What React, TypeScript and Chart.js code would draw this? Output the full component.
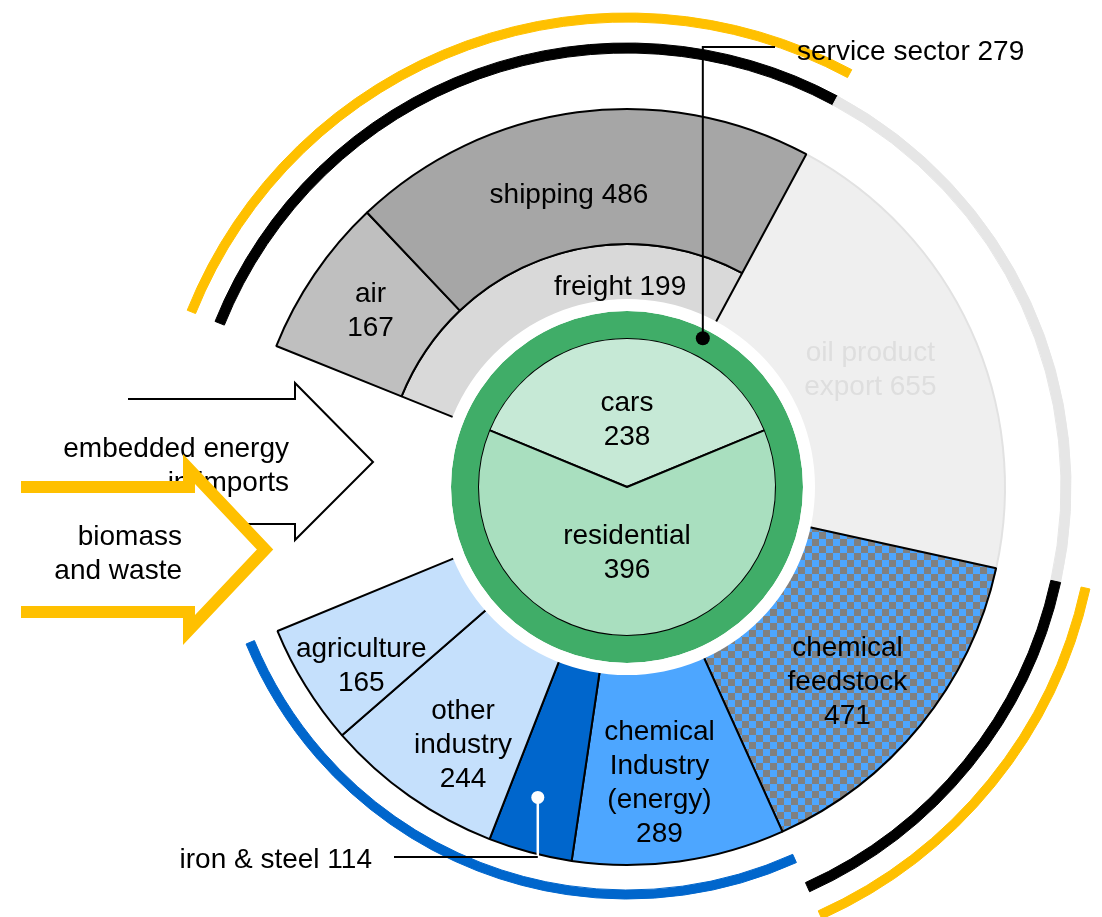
import React, { useEffect, useRef } from "react";
import { Chart, registerables } from "chart.js";

Chart.register(...registerables);

// ---------------- data ----------------
const transportLabels = ["air", "shipping"];
const transportValues = [167, 486];
const freightLabel = "freight";
const freightValue = 199;
const sectorLabels = [
  "oil product export",
  "chemical feedstock",
  "chemical Industry (energy)",
  "iron & steel",
  "other industry",
  "agriculture",
];
const sectorValues = [655, 471, 289, 114, 244, 165];
const homeLabels = ["cars", "residential"];
const homeValues = [238, 396];
const serviceLabel = "service sector";
const serviceValue = 279;
const inflowLabels = ["embedded energy in imports", "biomass and waste"];

// ---------------- layout / style ----------------
const W = 1102;
const H = 917;
const CX = 627;
const CY = 487;
const WHEEL_START = -68.1; // deg, clockwise from 12 o'clock
const WHEEL_SWEEP = 315.7; // deg covered by the sectors
const R_OUTER = 474;
const R_WEDGE_OUT = 378;
const R_FREIGHT_OUT = 243;
const R_WEDGE_IN = 186;
const R_WHITE = 188;
const R_GREEN_OUT = 176;
const R_PIE = 149;
const FONT = '28px "Liberation Sans", Arial, sans-serif';
const LINE_H = 34;
const CAP_HALF = 10;

const COL = {
  yellow: "#ffc000",
  black: "#000000",
  grayArc: "#e6e6e6",
  blueArc: "#0066cc",
  air: "#bfbfbf",
  shipping: "#a6a6a6",
  freight: "#d9d9d9",
  oil: "#efefef",
  oilEdge: "#e2e2e2",
  oilText: "#dedede",
  chem: "#4da6ff",
  iron: "#0066cc",
  light: "#c5e0fc",
  green: "#40ad68",
  cars: "#c6e9d6",
  residential: "#a9dfbf",
  checkGray: "#808080",
  T: "rgba(0,0,0,0)",
};

const pct = (r: number, R: number) => `${(r / R) * 100}%`;

function makeChecker(): any {
  const c = document.createElement("canvas");
  c.width = 14;
  c.height = 14;
  const g = c.getContext("2d")!;
  g.fillStyle = COL.checkGray;
  g.fillRect(0, 0, 14, 14);
  g.fillStyle = COL.chem;
  g.fillRect(0, 0, 7, 7);
  g.fillRect(7, 7, 7, 7);
  return g.createPattern(c, "repeat");
}

function baseOptions(radius: number, cutout: string, rotation: number): any {
  return {
    responsive: false,
    animation: false,
    devicePixelRatio: 1,
    events: [],
    layout: { padding: { left: 2 * CX - W, top: 2 * CY - H, right: 0, bottom: 0 } },
    radius,
    cutout,
    rotation,
    plugins: { legend: { display: false }, tooltip: { enabled: false } },
  };
}

function polar(el: any, t: number, r: number): [number, number] {
  const a = el.startAngle + t * (el.endAngle - el.startAngle);
  return [el.x + r * Math.cos(a), el.y + r * Math.sin(a)];
}

function block(ctx: CanvasRenderingContext2D, lines: string[], x: number, y: number, color: string, align: CanvasTextAlign = "center") {
  ctx.fillStyle = color;
  ctx.textAlign = align;
  ctx.textBaseline = "alphabetic";
  const n = lines.length;
  lines.forEach((s, i) => ctx.fillText(s, x, y + (i - (n - 1) / 2) * LINE_H + CAP_HALF));
}

export default function App() {
  const refA = useRef<HTMLCanvasElement>(null);
  const refB = useRef<HTMLCanvasElement>(null);
  const refC = useRef<HTMLCanvasElement>(null);

  useEffect(() => {
    const transportTotal = freightValue + transportValues.reduce((a, b) => a + b, 0);
    const grandTotal = transportTotal + sectorValues.reduce((a, b) => a + b, 0);
    const gapValue = grandTotal * (360 / WHEEL_SWEEP - 1);
    const groupValues = [transportTotal, ...sectorValues, gapValue];
    const T = COL.T;
    const checker = makeChecker();

    const arcRing = (colors: string[], weight: number) => ({
      data: groupValues,
      backgroundColor: colors,
      borderColor: colors,
      borderWidth: colors.map((c) => (c === T ? 0 : 1)),
      weight,
      clip: false,
    });
    const spacer = (weight: number) => ({
      data: groupValues,
      backgroundColor: groupValues.map(() => T),
      borderWidth: 0,
      weight,
      clip: false,
    });

    // Chart A: outer bracket arcs + full-depth sector wedges
    const chartA = new Chart(refA.current!, {
      type: "doughnut",
      data: {
        labels: ["transport", ...sectorLabels, "imports"],
        datasets: [
          arcRing([COL.yellow, T, COL.yellow, T, T, T, T, T], 9),
          spacer(21),
          arcRing([COL.black, COL.grayArc, COL.black, T, T, T, T, T], 10),
          spacer(22),
          arcRing([T, T, T, COL.blueArc, COL.blueArc, COL.blueArc, COL.blueArc, T], 9),
          spacer(R_OUTER - 9 - 21 - 10 - 22 - 9 - R_WEDGE_OUT),
          {
            data: groupValues,
            backgroundColor: [T, COL.oil, checker, COL.chem, COL.iron, COL.light, COL.light, T],
            borderColor: [T, COL.oilEdge, COL.black, COL.black, COL.black, COL.black, COL.black, T],
            borderWidth: [0, 2, 2, 2, 2, 2, 2, 0],
            weight: R_WEDGE_OUT - R_WEDGE_IN,
            clip: false,
          } as any,
        ],
      },
      options: baseOptions(R_OUTER, pct(R_WEDGE_IN, R_OUTER), WHEEL_START),
    });

    // Chart B: transport (air, shipping outer ring; freight inner ring)
    const transportSweep = (WHEEL_SWEEP * transportTotal) / grandTotal;
    const outerSum = transportValues.reduce((a, b) => a + b, 0);
    const restOuter = outerSum * (360 / transportSweep - 1);
    const restInner = freightValue * (360 / transportSweep - 1);
    const chartB = new Chart(refB.current!, {
      type: "doughnut",
      data: {
        labels: [...transportLabels, "rest"],
        datasets: [
          {
            data: [...transportValues, restOuter],
            backgroundColor: [COL.air, COL.shipping, T],
            borderColor: [COL.black, COL.black, T],
            borderWidth: [2, 2, 0],
            weight: R_WEDGE_OUT - R_FREIGHT_OUT,
            clip: false,
          } as any,
          {
            data: [freightValue, restInner],
            backgroundColor: [COL.freight, T],
            borderColor: [COL.black, T],
            borderWidth: [2, 0],
            weight: R_FREIGHT_OUT - R_WEDGE_IN,
            clip: false,
          },
        ],
      },
      options: baseOptions(R_WEDGE_OUT, pct(R_WEDGE_IN, R_WEDGE_OUT), WHEEL_START),
    });

    const homeTotal = homeValues.reduce((a, b) => a + b, 0);

    const overlay = {
      id: "overlay",
      afterDraw(chart: any) {
        const ctx: CanvasRenderingContext2D = chart.ctx;
        ctx.save();
        ctx.font = FONT;
        const bOuter = chartB.getDatasetMeta(0).data as any[];
        const bInner = chartB.getDatasetMeta(1).data as any[];
        const aW = chartA.getDatasetMeta(6).data as any[];
        const pie = chart.getDatasetMeta(2).data as any[];
        const green = chart.getDatasetMeta(1).data[0] as any;

        const labels: [any, number, number, string[], string][] = [
          [bOuter[0], 0.52, 312, [transportLabels[0], `${transportValues[0]}`], COL.black],
          [bOuter[1], 0.45, 300, [`${transportLabels[1]} ${transportValues[1]}`], COL.black],
          [bInner[0], 0.686, 202, [`${freightLabel} ${freightValue}`], COL.black],
          [aW[1], 0.48, 271, ["oil product", `export ${sectorValues[0]}`], COL.oilText],
          [aW[2], 0.54, 293, ["chemical", "feedstock", `${sectorValues[1]}`], COL.black],
          [aW[3], 0.55, 296, ["chemical", "Industry", "(energy)", `${sectorValues[2]}`], COL.black],
          [aW[5], 0.41, 304, ["other", "industry", `${sectorValues[4]}`], COL.black],
          [aW[6], 0.4, 319, [sectorLabels[5], `${sectorValues[5]}`], COL.black],
          [pie[0], 0.5, 69, [homeLabels[0], `${homeValues[0]}`], COL.black],
          [pie[1], 0.5, 64, [homeLabels[1], `${homeValues[1]}`], COL.black],
        ];
        labels.forEach(([el, t, r, lines, color]) => {
          const [x, y] = polar(el, t, r);
          block(ctx, lines, x, y, color);
        });

        // service sector leader
        const sa = ((27 - 90) * Math.PI) / 180;
        const sr = 167;
        const sx = green.x + sr * Math.cos(sa);
        const sy = green.y + sr * Math.sin(sa);
        ctx.strokeStyle = COL.black;
        ctx.lineWidth = 2;
        ctx.beginPath();
        ctx.moveTo(sx, sy);
        ctx.lineTo(sx, 47);
        ctx.lineTo(775, 47);
        ctx.stroke();
        ctx.fillStyle = COL.black;
        ctx.beginPath();
        ctx.arc(sx, sy, 7, 0, Math.PI * 2);
        ctx.fill();
        block(ctx, [`${serviceLabel} ${serviceValue}`], 797, 50, COL.black, "left");

        // iron & steel leader
        const [ix, iy] = polar(aW[4], 0.59, 323);
        ctx.strokeStyle = "#ffffff";
        ctx.lineWidth = 2.5;
        ctx.beginPath();
        ctx.moveTo(ix, iy);
        ctx.lineTo(ix, 856);
        ctx.stroke();
        ctx.fillStyle = "#ffffff";
        ctx.beginPath();
        ctx.arc(ix, iy, 6.5, 0, Math.PI * 2);
        ctx.fill();
        ctx.strokeStyle = COL.black;
        ctx.lineWidth = 2;
        ctx.beginPath();
        ctx.moveTo(ix, 857);
        ctx.lineTo(394, 857);
        ctx.stroke();
        block(ctx, [`${sectorLabels[3]} ${sectorValues[3]}`], 372, 858, COL.black, "right");

        // embedded energy arrow (outline)
        ctx.lineJoin = "miter";
        ctx.strokeStyle = COL.black;
        ctx.lineWidth = 2;
        ctx.beginPath();
        ctx.moveTo(128, 399);
        ctx.lineTo(295, 399);
        ctx.lineTo(295, 383);
        ctx.lineTo(373, 462);
        ctx.lineTo(295, 540);
        ctx.lineTo(295, 524);
        ctx.lineTo(128, 524);
        ctx.stroke();
        block(ctx, ["embedded energy", "in imports"], 289, 464, COL.black, "right");

        // biomass arrow (yellow)
        const pts: [number, number][] = [
          [21, 487],
          [189, 487],
          [189, 469],
          [265, 549.5],
          [189, 630],
          [189, 612],
          [21, 612],
        ];
        ctx.fillStyle = "#ffffff";
        ctx.beginPath();
        pts.forEach(([x, y], i) => (i ? ctx.lineTo(x, y) : ctx.moveTo(x, y)));
        ctx.closePath();
        ctx.fill();
        ctx.strokeStyle = COL.yellow;
        ctx.lineWidth = 12;
        ctx.lineCap = "butt";
        ctx.beginPath();
        pts.forEach(([x, y], i) => (i ? ctx.lineTo(x, y) : ctx.moveTo(x, y)));
        ctx.stroke();
        block(ctx, ["biomass", "and waste"], 182, 551.5, COL.black, "right");
        ctx.restore();
      },
    };

    // Chart C: white gap, service-sector ring, cars/residential pie
    const chartC = new Chart(refC.current!, {
      type: "doughnut",
      data: {
        labels: homeLabels,
        datasets: [
          { data: [1], backgroundColor: ["#ffffff"], borderWidth: 0, weight: R_WHITE - R_GREEN_OUT, clip: false } as any,
          { data: [serviceValue], backgroundColor: [COL.green], borderWidth: 0, weight: R_GREEN_OUT - R_PIE, clip: false },
          {
            data: homeValues,
            backgroundColor: [COL.cars, COL.residential],
            borderColor: COL.black,
            borderWidth: 2,
            weight: R_PIE,
            rotation: (-180 * homeValues[0]) / homeTotal,
            clip: false,
          },
        ],
      },
      options: baseOptions(R_WHITE, "0%", 0),
      plugins: [overlay as any],
    });

    return () => {
      chartA.destroy();
      chartB.destroy();
      chartC.destroy();
    };
  }, []);

  const cs: React.CSSProperties = { position: "absolute", left: 0, top: 0, width: W, height: H, display: "block" };
  return (
    <div style={{ position: "absolute", left: 0, top: 0, width: W, height: H, background: "#ffffff", overflow: "hidden" }}>
      <canvas ref={refA} width={W} height={H} style={cs} />
      <canvas ref={refB} width={W} height={H} style={cs} />
      <canvas ref={refC} width={W} height={H} style={cs} />
      <span style={{ position: "absolute", left: -9999, top: 0 }}>{inflowLabels.join(" / ")}</span>
    </div>
  );
}
